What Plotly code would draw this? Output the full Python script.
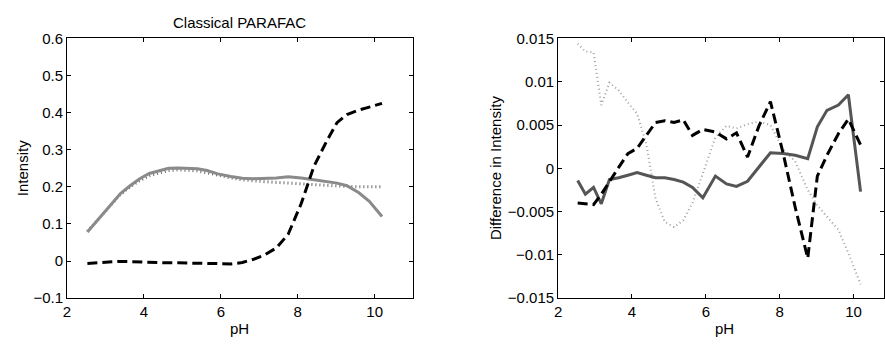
import plotly.graph_objects as go

# ---- data ----
pH = [2.53, 2.74, 2.96, 3.17, 3.39, 3.64, 3.89, 4.14, 4.39, 4.64, 4.89, 5.14, 5.39, 5.64,
      5.92, 6.26, 6.56, 6.83, 7.13, 7.44, 7.75, 8.09, 8.42, 8.76, 9.02, 9.28, 9.59, 9.86, 10.19]

# Left panel: Classical PARAFAC intensities
left_solid = [0.078, 0.103, 0.130, 0.157, 0.182, 0.203, 0.222, 0.236, 0.243, 0.250, 0.251, 0.250,
              0.249, 0.244, 0.235, 0.228, 0.223, 0.222, 0.222, 0.224, 0.227, 0.224, 0.219, 0.215,
              0.210, 0.203, 0.184, 0.161, 0.120]
left_dotted = [0.080, 0.104, 0.130, 0.156, 0.180, 0.200, 0.217, 0.230, 0.238, 0.244, 0.246, 0.245,
               0.243, 0.238, 0.231, 0.224, 0.219, 0.216, 0.214, 0.212, 0.210, 0.207, 0.205, 0.203,
               0.202, 0.201, 0.200, 0.200, 0.200]
left_dashed = [-0.007, -0.005, -0.003, -0.002, -0.001, -0.002, -0.004, -0.005, -0.005, -0.005, -0.005,
               -0.005, -0.005, -0.006, -0.007, -0.008, -0.004, 0.004, 0.016, 0.035, 0.072, 0.155,
               0.255, 0.325, 0.373, 0.395, 0.407, 0.415, 0.425]

# Right panel: differences in intensity
right_solid = [-0.0014, -0.0030, -0.0022, -0.0041, -0.0013, -0.0011, -0.0008, -0.0005, -0.0008, -0.0011,
               -0.0011, -0.0013, -0.0016, -0.0022, -0.0034, -0.0009, -0.0018, -0.0021, -0.0015, 0.0001,
               0.0018, 0.0017, 0.0015, 0.0011, 0.0048, 0.0067, 0.0073, 0.0085, -0.0027]
right_dashed = [-0.0040, -0.0041, -0.0042, -0.0030, -0.0015, 0.0001, 0.0017, 0.0023, 0.0038, 0.0053,
                0.0055, 0.0053, 0.0056, 0.0038, 0.0045, 0.0042, 0.0034, 0.0041, 0.0013, 0.0049,
                0.0077, 0.0018, -0.0045, -0.0104, -0.0009, 0.0015, 0.0040, 0.0057, 0.0027]
right_dotted = [0.0144, 0.0135, 0.0134, 0.0073, 0.0099, 0.0090, 0.0076, 0.0063, 0.0028, -0.0035,
                -0.0062, -0.0068, -0.0060, -0.0040, -0.0006, 0.0036, 0.0049, 0.0046, 0.0051, 0.0054,
                0.0050, 0.0022, 0.0008, -0.0025, -0.0043, -0.0056, -0.0071, -0.0098, -0.0134]

x_ticks = [2, 4, 6, 8, 10]
left_yticks = [-0.1, 0, 0.1, 0.2, 0.3, 0.4, 0.5, 0.6]
left_yticktext = ["\u22120.1", "0", "0.1", "0.2", "0.3", "0.4", "0.5", "0.6"]
right_yticks = [-0.015, -0.01, -0.005, 0, 0.005, 0.01, 0.015]
right_yticktext = ["\u22120.015", "\u22120.01", "\u22120.005", "0", "0.005", "0.01", "0.015"]

title_text = "Classical PARAFAC"
xlabel = "pH"
left_ylabel = "Intensity"
right_ylabel = "Difference in Intensity"

# ---- figure ----
W, H = 885, 347
FONT = "Liberation Sans, Arial, Helvetica, sans-serif"
FS = 15

fig = go.Figure()

def add(x, y, xa, ya, color, width, dash):
    fig.add_trace(go.Scatter(x=x, y=y, mode="lines", xaxis=xa, yaxis=ya,
                             line=dict(color=color, width=width, dash=dash),
                             showlegend=False, hoverinfo="skip"))

# left panel
add(pH, left_dotted, "x", "y", "#666666", 3, "1px,3px")
add(pH, left_solid, "x", "y", "#8a8a8a", 3, "solid")
add(pH, left_dashed, "x", "y", "#000000", 3, "10px,5px")
# right panel
add(pH, right_dotted, "x2", "y2", "#a0a0a0", 2, "1px,3px")
add(pH, right_solid, "x2", "y2", "#555555", 3, "solid")
add(pH, right_dashed, "x2", "y2", "#000000", 3, "10px,5px")

axis_common = dict(showline=True, linecolor="black", linewidth=1, mirror="ticks",
                   ticks="inside", ticklen=4, tickcolor="black", tickwidth=1,
                   showgrid=False, zeroline=False,
                   tickfont=dict(family=FONT, size=FS, color="black"))

ytop = 1 - 31 / H
ybot = 1 - 304 / H

fig.update_layout(
    width=W, height=H,
    margin=dict(l=0, r=0, t=0, b=0),
    paper_bgcolor="white", plot_bgcolor="white",
    font=dict(family=FONT, size=FS, color="black"),
    xaxis=dict(domain=[63.3 / W, 411 / W], range=[2, 11], tickvals=x_ticks,
               anchor="y", **axis_common),
    yaxis=dict(domain=[ybot, ytop], range=[-0.1, 0.6], tickvals=left_yticks,
               ticktext=left_yticktext, anchor="x", **axis_common),
    xaxis2=dict(domain=[556.6 / W, 884 / W], range=[2, 2 + (884 - 556.6) / 37.1], tickvals=x_ticks,
                anchor="y2", **axis_common),
    yaxis2=dict(domain=[ybot, ytop], range=[-0.015, 0.015], tickvals=right_yticks,
                ticktext=right_yticktext, anchor="x2", **axis_common),
)

ann_font = dict(family=FONT, size=FS, color="black")
fig.add_annotation(text=title_text, x=237 / W, y=1 - 14 / H, xref="paper", yref="paper",
                   xanchor="center", yanchor="middle", showarrow=False, font=ann_font)
fig.add_annotation(text=xlabel, x=237 / W, y=1 - 336 / H, xref="paper", yref="paper",
                   xanchor="center", yanchor="middle", showarrow=False, font=ann_font)
fig.add_annotation(text=xlabel, x=723.5 / W, y=1 - 336 / H, xref="paper", yref="paper",
                   xanchor="center", yanchor="middle", showarrow=False, font=ann_font)
fig.add_annotation(text=left_ylabel, x=18 / W, y=1 - 167.5 / H, xref="paper", yref="paper",
                   xanchor="center", yanchor="middle", textangle=-90, showarrow=False, font=ann_font)
fig.add_annotation(text=right_ylabel, x=494 / W, y=1 - 167.5 / H, xref="paper", yref="paper",
                   xanchor="center", yanchor="middle", textangle=-90, showarrow=False, font=ann_font)

fig.write_html("out.html")
